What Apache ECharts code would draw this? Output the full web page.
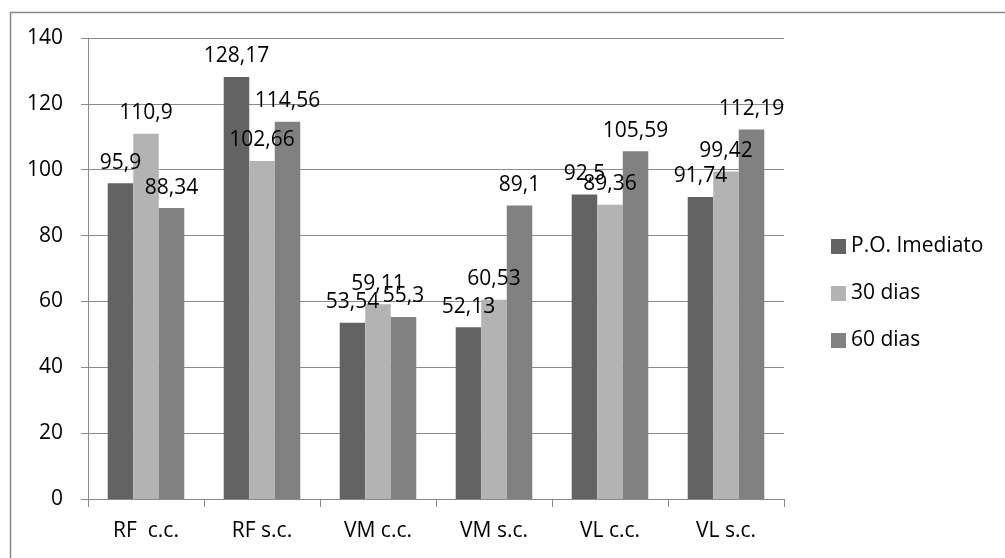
<!DOCTYPE html>
<html><head><meta charset="utf-8">
<script src="https://cdn.jsdelivr.net/npm/echarts@6/dist/echarts.min.js"></script>
<style>html,body{margin:0;padding:0;background:#fff}#c{width:1005px;height:558px}</style>
</head><body><div id="c"></div>
<script>
const categories = ['RF  c.c.', 'RF s.c.', 'VM c.c.', 'VM s.c.', 'VL c.c.', 'VL s.c.'];
const seriesNames = ['P.O. Imediato', '30 dias', '60 dias'];
const poImediato = [95.9, 128.17, 53.54, 52.13, 92.5, 91.74];
const dias30 = [110.9, 102.66, 59.11, 60.53, 89.36, 99.42];
const dias60 = [88.34, 114.56, 55.3, 89.1, 105.59, 112.19];
const colors = ['#636363', '#b3b3b3', '#818181'];
const FONT = '"Open Sans", sans-serif';
const FS = 21;

const chart = echarts.init(document.getElementById('c'));
const fmt = p => String(p.value).replace('.', ',');
function mk(name, data, color) {
  return {
    name, type: 'bar', data, barGap: 0, barCategoryGap: '34%',
    itemStyle: { color },
    label: { show: true, position: 'top', distance: 10, formatter: fmt,
      color: '#000', fontSize: FS, fontFamily: FONT }
  };
}
chart.setOption({
  animation: false,
  graphic: [{ type: 'rect', left: 8, top: 10, shape: { width: 1200, height: 700 },
    style: { fill: 'none', stroke: '#868686', lineWidth: 1.5 }, silent: true }],
  grid: { left: 88, right: 221, top: 38, bottom: 59 },
  legend: {
    orient: 'vertical', left: 826, top: 231, itemWidth: 15, itemHeight: 15, itemGap: 26,
    icon: 'rect', data: seriesNames,
    textStyle: { fontSize: FS, fontFamily: FONT, color: '#000', lineHeight: 21 }
  },
  xAxis: {
    type: 'category', data: categories,
    axisLine: { lineStyle: { color: '#8a8a8a', width: 1 } },
    axisTick: { show: true, length: 8, lineStyle: { color: '#8a8a8a' } },
    axisLabel: { color: '#000', fontSize: FS, fontFamily: FONT, margin: 22 }
  },
  yAxis: {
    type: 'value', min: 0, max: 140, interval: 20,
    axisLine: { show: true, lineStyle: { color: '#8a8a8a' } },
    axisTick: { show: true, length: 7, lineStyle: { color: '#8a8a8a' } },
    splitLine: { lineStyle: { color: '#8a8a8a', width: 1 } },
    axisLabel: { color: '#000', fontSize: FS, fontFamily: FONT, margin: 25 }
  },
  series: [mk(seriesNames[0], poImediato, colors[0]), mk(seriesNames[1], dias30, colors[1]), mk(seriesNames[2], dias60, colors[2])]
});
</script></body></html>
